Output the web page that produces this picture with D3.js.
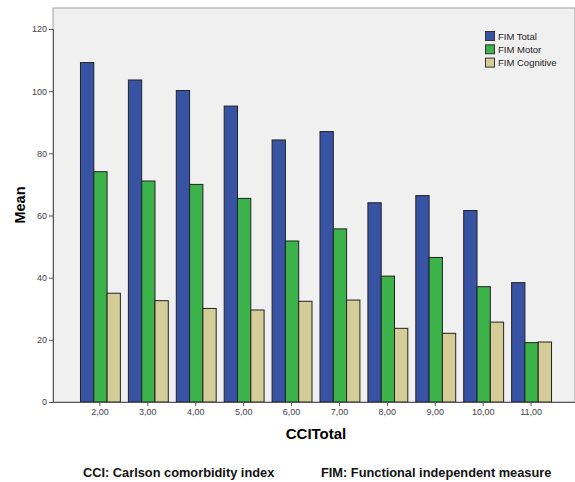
<!DOCTYPE html>
<html><head><meta charset="utf-8">
<script src="https://cdn.jsdelivr.net/npm/d3@7"></script>
<style>body{margin:0;background:#fff}svg{display:block}</style>
</head><body>
<script>
const categories = ["2,00","3,00","4,00","5,00","6,00","7,00","8,00","9,00","10,00","11,00"];
const fimTotal     = [109.2,103.6,100.2,95.2,84.3,87.0,64.1,66.4,61.6,38.4];
const fimMotor     = [74.1,71.1,70.0,65.5,51.8,55.7,40.5,46.5,37.1,19.1];
const fimCognitive = [35.0,32.6,30.1,29.6,32.4,32.8,23.7,22.1,25.7,19.3];
const seriesNames  = ["FIM Total","FIM Motor","FIM Cognitive"];
const yTicks = [0,20,40,60,80,100,120];
const colors = ["#3953A4","#3BB24A","#D5CD97"];

const W=575,H=482;
const svg=d3.select("body").append("svg").attr("width",W).attr("height",H);
const plotL=53, plotT=8, plotR=575, plotB=402;
svg.append("rect").attr("x",plotL).attr("y",plotT).attr("width",plotR-plotL).attr("height",plotB-plotT)
  .attr("fill","#F0F0F0").attr("stroke","#A0A0A0").attr("stroke-width",1);

const y=d3.scaleLinear().domain([0,120]).range([402,29]);
const x=d3.scaleBand().domain(categories).range([76,555]).paddingInner(0.167).paddingOuter(0.083);
const xs=d3.scaleBand().domain(seriesNames).range([0,x.bandwidth()]);
const series=[fimTotal,fimMotor,fimCognitive];

const g=svg.append("g");
series.forEach((vals,si)=>{
  g.selectAll(null).data(vals).enter().append("rect")
   .attr("x",(d,i)=>x(categories[i])+xs(seriesNames[si])+0.5)
   .attr("y",d=>y(d))
   .attr("width",xs.bandwidth())
   .attr("height",d=>y(0)-y(d))
   .attr("fill",colors[si]).attr("stroke","#222").attr("stroke-width",1);
});

const yAxis=svg.append("g").attr("transform",`translate(${plotL},0)`)
  .call(d3.axisLeft(y).tickValues(yTicks).tickSize(4).tickPadding(2));
const xAxis=svg.append("g").attr("transform",`translate(0,${plotB})`)
  .call(d3.axisBottom(x).tickSize(4).tickPadding(3));
[yAxis,xAxis].forEach(a=>{
  a.selectAll("text").attr("font-family","Liberation Sans, Arial, sans-serif").attr("font-size","9px").attr("fill","#444");
  a.selectAll("line").attr("stroke","#555");
  a.select(".domain").attr("stroke","#555");
});
xAxis.select(".domain").attr("d",`M${plotL},0.5H${plotR}`);

svg.append("text").attr("transform","translate(25,205) rotate(-90)").attr("text-anchor","middle")
  .attr("font-family","Liberation Sans, Arial, sans-serif").attr("font-weight","bold").attr("font-size","14.5px").text("Mean");
svg.append("text").attr("x",316).attr("y",439).attr("text-anchor","middle")
  .attr("font-family","Liberation Sans, Arial, sans-serif").attr("font-weight","bold").attr("font-size","15px").text("CCITotal");

const leg=svg.append("g");
seriesNames.forEach((n,i)=>{
  leg.append("rect").attr("x",485.5).attr("y",31.5+i*13.3).attr("width",9).attr("height",9)
    .attr("fill",colors[i]).attr("stroke","#333").attr("stroke-width",1);
  leg.append("text").attr("x",498).attr("y",39.5+i*13.3)
    .attr("font-family","Liberation Sans, Arial, sans-serif").attr("font-size","9.5px").attr("fill","#222").text(n);
});

svg.append("text").attr("x",83).attr("y",477).attr("font-family","Liberation Sans, Arial, sans-serif")
  .attr("font-weight","bold").attr("font-size","12.8px").attr("fill","#111").text("CCI: Carlson comorbidity index");
svg.append("text").attr("x",321).attr("y",477).attr("font-family","Liberation Sans, Arial, sans-serif")
  .attr("font-weight","bold").attr("font-size","12.8px").attr("fill","#111").text("FIM: Functional independent measure");
</script>
</body></html>
